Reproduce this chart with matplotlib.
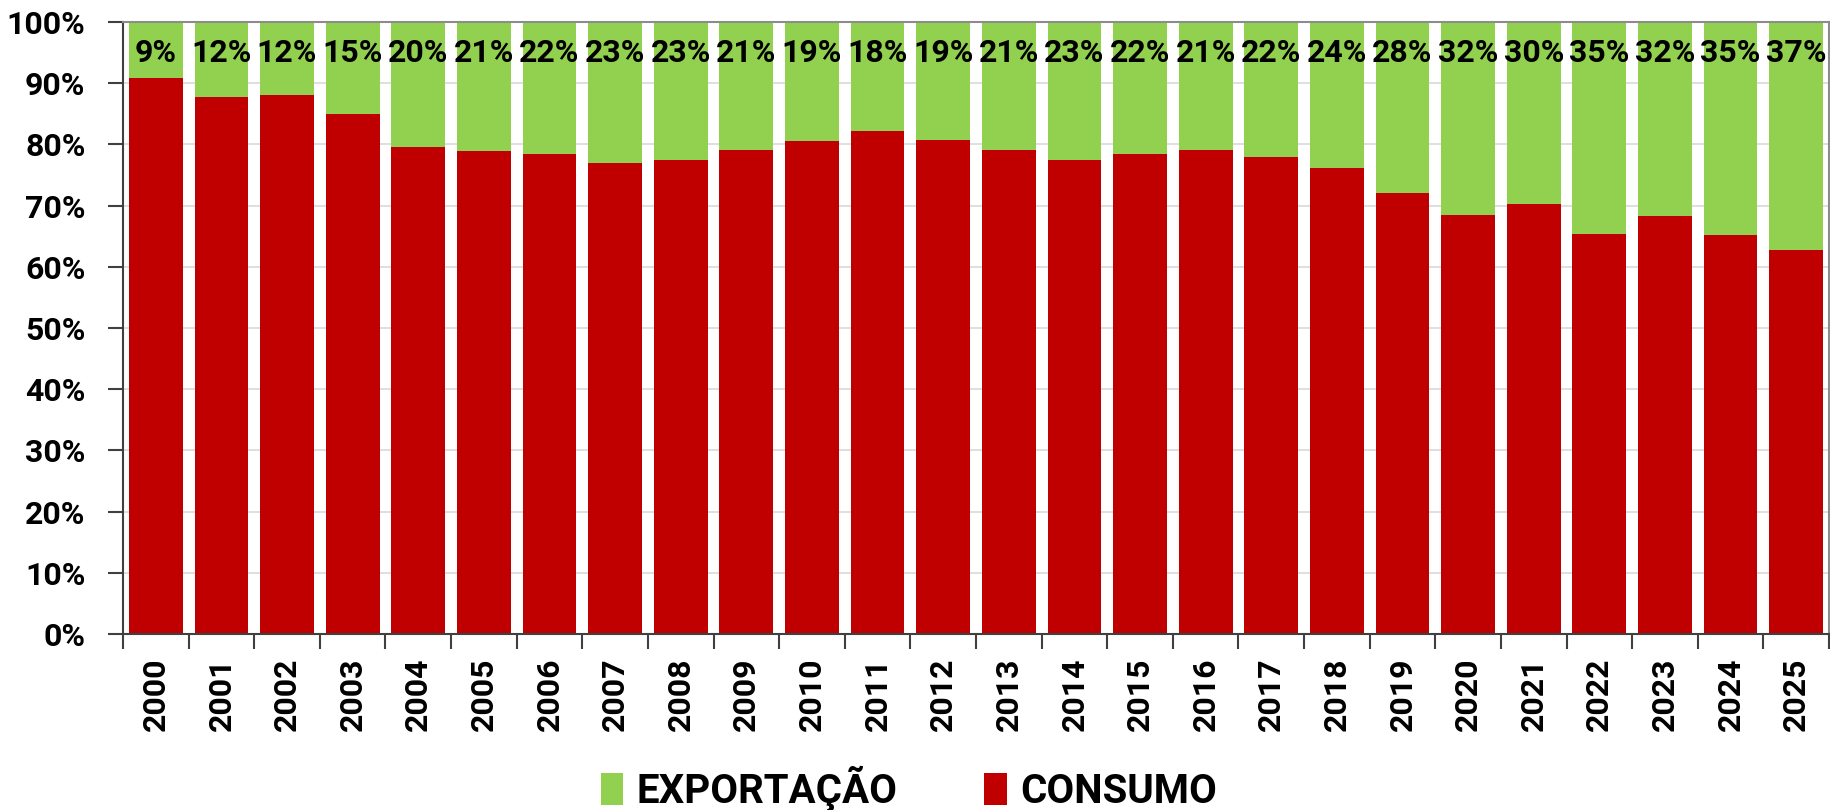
import matplotlib.pyplot as plt
import numpy as np

# dados
anos = [str(a) for a in range(2000, 2026)]
exportacao = [9.1, 12.3, 12.0, 15.0, 20.4, 21.1, 21.6, 23.0, 22.6, 20.9,
              19.4, 17.8, 19.3, 20.9, 22.6, 21.6, 20.9, 22.0, 23.8, 28.0,
              31.6, 29.7, 34.6, 31.7, 34.8, 37.2]
consumo = [100 - e for e in exportacao]

verde = '#92D050'
vermelho = '#C00000'

plt.rcParams['font.family'] = ['Roboto', 'DejaVu Sans']

fig = plt.figure(figsize=(18.31, 8.10), dpi=100)
W, H = 1831, 810
ax = fig.add_axes([123 / W, 1 - 634 / H, (1829 - 123) / W, (634 - 22) / H])

x = np.arange(len(anos))
largura = 0.82
ax.bar(x, consumo, largura, color=vermelho, label='CONSUMO', zorder=2)
ax.bar(x, exportacao, largura, bottom=consumo, color=verde, label='EXPORTAÇÃO', zorder=2)

for i, e in enumerate(exportacao):
    ax.text(i, 95, f'{round(e)}%', ha='center', va='center',
            fontsize=23, fontweight='bold', color='black', zorder=3)

ax.set_xlim(-0.5, len(anos) - 0.5)
ax.set_ylim(0, 100)
ax.set_yticks(np.arange(0, 101, 10))
ax.set_yticklabels([f'{v}%' for v in range(0, 101, 10)], fontsize=23, fontweight='bold')
ax.tick_params(axis='y', length=11, width=1.5, color='#404040', pad=16)

# ticks nas fronteiras, rótulos no centro
ax.set_xticks(np.arange(-0.5, len(anos), 1))
ax.set_xticklabels([])
ax.tick_params(axis='x', which='major', length=11, width=1.5, color='#404040')
ax.set_xticks(x, minor=True)
ax.set_xticklabels(anos, minor=True, rotation=90, fontsize=23, fontweight='bold')
ax.tick_params(axis='x', which='minor', length=0, pad=17)

ax.grid(axis='y', color='#D9D9D9', linewidth=1.2, zorder=0)
ax.set_axisbelow(True)
for s in ['left', 'bottom']:
    ax.spines[s].set_color('#404040')
    ax.spines[s].set_linewidth(1.5)
for s in ['top', 'right']:
    ax.spines[s].set_color('#8C8C8C')
    ax.spines[s].set_linewidth(1.5)

h, l = ax.get_legend_handles_labels()
fig.legend(h[::-1], l[::-1], loc='center', bbox_to_anchor=(909 / W, 1 - 789 / H),
           ncol=2, frameon=False, handlelength=0.55, handleheight=0.85,
           handletextpad=0.35, columnspacing=2.15, borderpad=0,
           prop={'family': ['Liberation Sans Narrow', 'Roboto'], 'weight': 'bold', 'size': 29})

fig.savefig('out.png', dpi=100)
